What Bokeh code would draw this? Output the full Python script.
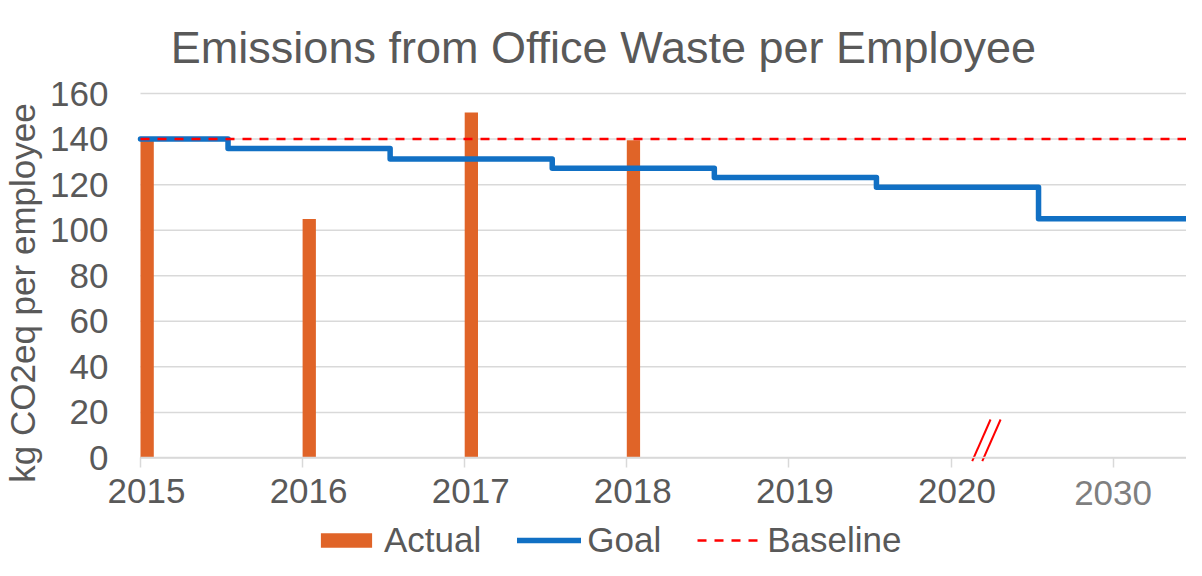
import math
from bokeh.plotting import figure
from bokeh.models import (Range1d, FixedTicker, Legend, LegendItem, LinearAxis, Label)
from bokeh.embed import file_html
from bokeh.resources import INLINE

# ---- data ----
year_labels = ["2015", "2016", "2017", "2018", "2019", "2020", "2030"]
actual_idx = [0, 1, 2, 3]
actual_values = [140.0, 104.9, 151.7, 139.5]
goal_edges = [0, 0.54, 1.54, 2.54, 3.54, 4.54, 5.54]
goal_values = [140.0, 135.9, 131.3, 127.2, 123.1, 118.8, 105.0]
baseline_value = 140.0
y_ticks = [0, 20, 40, 60, 80, 100, 120, 140, 160]

# ---- styling / geometry ----
TEXT = "#595959"
FONT = "Liberation Sans"
BAR = "#E06428"
BLUE = "#1170C4"
GRID = "#D9D9D9"
W, H = 1186, 560
PLOT_LEFT_PX, PX_PER_YEAR = 140, 162.1
FRAME_TOP_PX, ZERO_PX, PX_PER_UNIT = 93, 457.5, 2.278
LABEL_SHIFT = 6 / PX_PER_YEAR       # year labels sit slightly right of their ticks

x_start = -PLOT_LEFT_PX / PX_PER_YEAR
x_end = (W - PLOT_LEFT_PX) / PX_PER_YEAR
y_end = 160 + FRAME_TOP_PX / PX_PER_UNIT
y_start = -(H - ZERO_PX) / PX_PER_UNIT

p = figure(width=W, height=H, output_backend="svg", toolbar_location=None,
           x_range=Range1d(x_start, x_end), y_range=Range1d(y_start, y_end),
           min_border_left=0, min_border_right=0, min_border_top=0,
           min_border_bottom=0)
p.outline_line_color = None
p.xgrid.visible = False
p.ygrid.visible = False
p.extra_x_ranges = {"lab": Range1d(x_start - LABEL_SHIFT, x_end - LABEL_SHIFT)}

# horizontal gridlines over the plotting area
p.segment(x0=[0] * len(y_ticks), x1=[x_end] * len(y_ticks), y0=y_ticks, y1=y_ticks,
          line_color=GRID, line_width=1.5)

# y axis pinned at x = 0
p.yaxis.fixed_location = 0
p.yaxis.ticker = FixedTicker(ticks=y_ticks)
p.yaxis.axis_line_color = None
p.yaxis.major_tick_line_color = None
p.yaxis.minor_tick_line_color = None
p.yaxis.major_tick_out = 0
p.yaxis.major_tick_in = 0
p.yaxis.major_label_standoff = 32
p.yaxis.major_label_text_font = FONT
p.yaxis.major_label_text_font_size = "35px"
p.yaxis.major_label_text_color = TEXT

# x axis pinned at y = 0 (line + tick marks)
p.xaxis.fixed_location = 0
p.xaxis.bounds = (0, x_end)
p.xaxis.ticker = FixedTicker(ticks=list(range(len(year_labels))))
p.xaxis.major_label_overrides = {i: "" for i in range(len(year_labels))}
p.xaxis.axis_line_color = GRID
p.xaxis.axis_line_width = 1.5
p.xaxis.major_tick_line_color = GRID
p.xaxis.major_tick_line_width = 1.5
p.xaxis.major_tick_out = 10
p.xaxis.major_tick_in = 0
p.xaxis.minor_tick_line_color = None

# year labels 2015-2020
ax_lab = LinearAxis(x_range_name="lab", fixed_location=0,
                    ticker=FixedTicker(ticks=list(range(6))),
                    major_label_overrides={i: year_labels[i] for i in range(6)},
                    axis_line_color=None, major_tick_line_color=None,
                    minor_tick_line_color=None, major_tick_out=0, major_tick_in=0,
                    major_label_standoff=21, major_label_text_font=FONT,
                    major_label_text_font_size="35px", major_label_text_color=TEXT)
p.add_layout(ax_lab, "below")

# lighter "2030" label
ax_2030 = LinearAxis(fixed_location=0, ticker=FixedTicker(ticks=[6]),
                     major_label_overrides={6: year_labels[6]},
                     axis_line_color=None, major_tick_line_color=None,
                     minor_tick_line_color=None, major_tick_out=0, major_tick_in=0,
                     major_label_standoff=23, major_label_text_font=FONT,
                     major_label_text_font_size="35px", major_label_text_color="#7F7F7F")
p.add_layout(ax_2030, "below")

# chart title and y-axis title
p.add_layout(Label(x=603, y=H - 47, x_units="screen", y_units="screen",
                   text="Emissions from Office Waste per Employee",
                   text_align="center", text_baseline="alphabetic",
                   text_font=FONT, text_font_size="45px", text_color=TEXT))
p.add_layout(Label(x=21.5, y=H - 292.5, x_units="screen", y_units="screen",
                   text="kg CO2eq per employee", angle=math.pi / 2,
                   text_align="center", text_baseline="alphabetic",
                   text_font=FONT, text_font_size="35px", text_color=TEXT))

# bars (drawn just to the right of each year tick)
bar_w = 0.082
bars = p.vbar(x=[i + bar_w / 2 for i in actual_idx], top=actual_values, width=bar_w,
              bottom=0, fill_color=BAR, line_color=None)

# goal step line
goal = p.step(x=goal_edges + [x_end], y=goal_values + [goal_values[-1]], mode="after",
              line_color=BLUE, line_width=5.5, line_join="round", line_cap="round")

# baseline
base = p.line(x=[0, x_end], y=[baseline_value, baseline_value], line_color="#FF0000",
              line_width=2.5, line_dash="9 8")

# axis break marks
bx = 5.131
p.segment(x0=[bx, bx + 0.062], y0=[-1.4, -1.4], x1=[bx + 0.113, bx + 0.175], y1=[16.9, 16.9],
          line_color="#FF0000", line_width=2)

legend = Legend(items=[LegendItem(label="Actual", renderers=[bars]),
                       LegendItem(label="Goal", renderers=[goal]),
                       LegendItem(label="Baseline", renderers=[base])],
                orientation="horizontal", location=(314, 0),
                glyph_width=64, glyph_height=18, label_standoff=6, label_width=20,
                spacing=36, padding=0, margin=0, border_line_color=None,
                background_fill_alpha=0, label_text_font=FONT,
                label_text_font_size="35px", label_text_color=TEXT)
p.add_layout(legend, "center")

open("out.html", "w").write(file_html(p, INLINE))
